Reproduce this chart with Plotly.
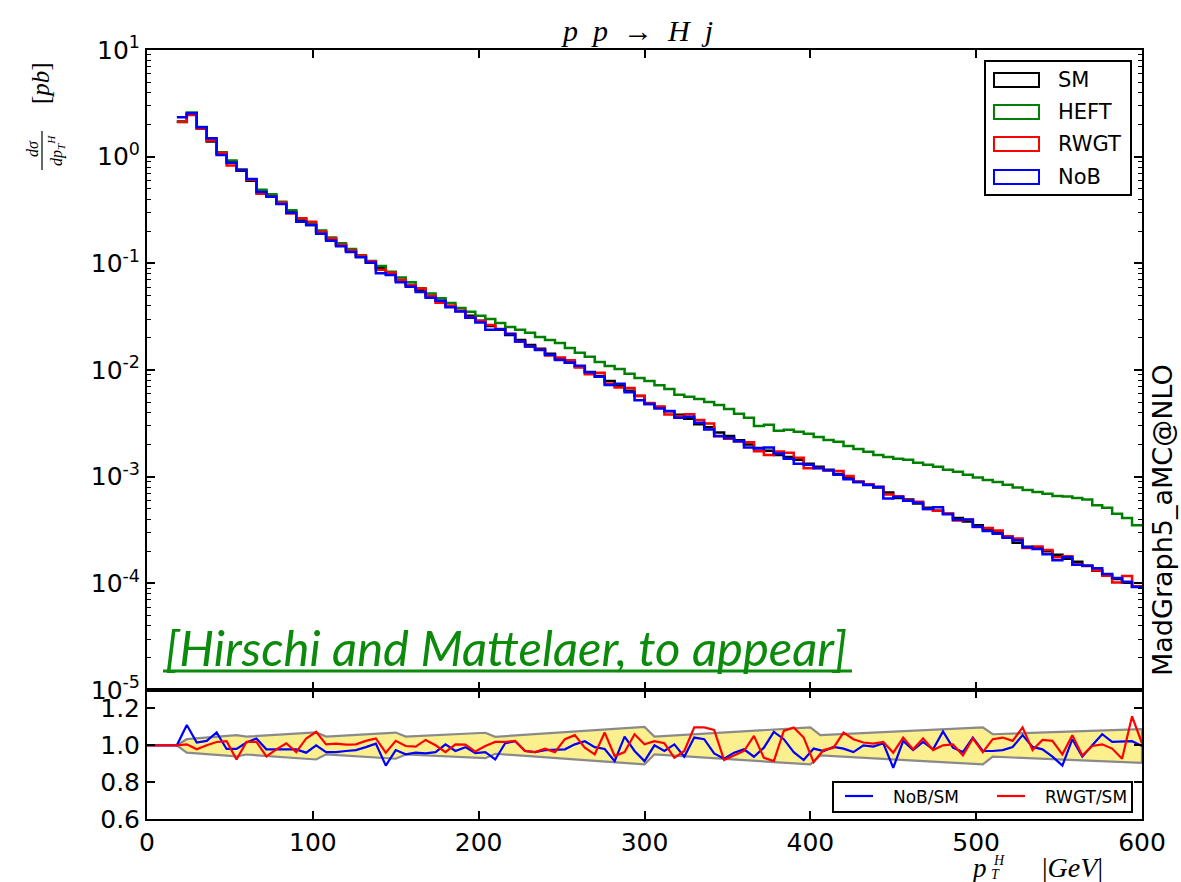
import numpy as np
import plotly.graph_objects as go

# ---------------------------------------------------------------------------
# Higgs transverse-momentum spectrum, p p -> H j, 6 GeV bins from 18 GeV
# ---------------------------------------------------------------------------
bin_start = 18.0
bin_width = 6.0

# d sigma / d pT  [pb] per bin (SM with full top/bottom loops)
sm_xsec = [
    2.11, 2.51, 1.84, 1.39, 1.06, 0.895, 0.738, 0.596, 0.477, 0.431,
    0.368, 0.305, 0.255, 0.229, 0.197, 0.169, 0.149, 0.131, 0.115, 0.101,
    0.0906, 0.0796, 0.0699, 0.0628, 0.0563, 0.0495, 0.0444, 0.0399, 0.0358, 0.0322,
    0.0289, 0.0259, 0.0238, 0.0213, 0.0191, 0.0172, 0.0158, 0.0142, 0.0127, 0.0117,
    0.0107, 0.0096, 0.0088, 0.0079, 0.0071, 0.0064, 0.0057, 0.0048, 0.0045, 0.0041,
    0.0038, 0.0035, 0.0031, 0.0029, 0.0026, 0.0024, 0.0022, 0.0020, 0.00186, 0.00175,
    0.00160, 0.00153, 0.00144, 0.00132, 0.00124, 0.00116, 0.00106, 0.00098, 0.00089, 0.00084,
    0.00079, 0.00071, 0.00063, 0.00061, 0.00056, 0.00051, 0.00048, 0.00045, 0.00041, 0.00038,
    0.00035, 0.00032, 0.00030, 0.00027, 0.00024, 0.00022, 0.000215, 0.00020, 0.000185, 0.000170,
    0.000159, 0.000146, 0.000131, 0.000120, 0.000110, 0.000101, 0.0000927,
]

# Heavy-top effective theory
heft_xsec = [
    2.15, 2.60, 1.90, 1.43, 1.10, 0.92, 0.76, 0.615, 0.49, 0.445,
    0.378, 0.315, 0.263, 0.236, 0.203, 0.175, 0.154, 0.136, 0.119, 0.105,
    0.0945, 0.0835, 0.0735, 0.0665, 0.0585, 0.0522, 0.0470, 0.0425, 0.0382, 0.0351,
    0.0322, 0.0301, 0.0276, 0.0253, 0.0238, 0.0223, 0.0204, 0.0191, 0.0179, 0.0161,
    0.0145, 0.0133, 0.0119, 0.0109, 0.0102, 0.0092, 0.0084, 0.0079, 0.0072, 0.00665,
    0.00585, 0.0056, 0.00536, 0.00502, 0.00471, 0.00432, 0.00388, 0.00356, 0.00299, 0.00306,
    0.00269, 0.00275, 0.00263, 0.00252, 0.00236, 0.00221, 0.00212, 0.00194, 0.00182, 0.00171,
    0.00160, 0.00153, 0.00147, 0.00144, 0.00135, 0.00129, 0.00124, 0.00116, 0.00111, 0.00104,
    0.00098, 0.00093, 0.00089, 0.00084, 0.00079, 0.00075, 0.00072, 0.00069, 0.00066, 0.00065,
    0.00063, 0.00061, 0.00054, 0.00051, 0.00045, 0.00041, 0.00035,
]

# Ratios to SM, one value per bin
nob_over_sm = [
    1.11, 1.015, 1.024, 1.07, 0.98, 0.98, 1.015, 1.037, 0.978, 0.978,
    0.98, 0.978, 0.96, 1.0, 0.963, 0.963, 0.969, 0.974, 0.99, 1.009,
    0.89, 0.974, 0.951, 0.96, 0.956, 0.963, 1.005, 0.969, 0.99, 0.958,
    0.963, 0.923, 1.011, 1.022, 0.969, 0.963, 0.974, 0.978, 0.978, 1.005,
    1.022, 0.99, 0.98, 0.914, 1.047, 0.969, 0.914, 1.0, 0.969, 1.005,
    0.938, 1.042, 1.033, 0.956, 0.927, 0.96, 0.978, 0.938, 0.987, 1.073,
    1.033, 0.963, 0.92, 0.982, 0.969, 0.991, 0.982, 0.963, 1.0, 0.993,
    1.011, 0.878, 1.024, 0.974, 1.018, 0.978, 1.075, 0.987, 0.963, 1.042,
    0.969, 0.969, 0.974, 0.991, 1.055, 0.991, 0.978, 0.938, 0.89, 1.033,
    0.938, 1.0, 1.06, 1.018, 1.018, 1.022, 0.996,
]
rwgt_over_sm = [
    1.005, 0.978, 1.0, 1.018, 1.022, 0.923, 1.018, 1.018, 0.94, 0.978,
    1.011, 0.963, 1.037, 1.073, 1.005, 1.009, 1.004, 1.005, 1.024, 1.037,
    0.96, 1.024, 0.996, 0.993, 1.029, 1.0, 0.963, 1.005, 1.004, 0.966,
    0.996, 1.018, 1.018, 1.024, 0.969, 0.963, 0.982, 0.963, 1.033, 1.055,
    0.987, 0.951, 1.069, 0.942, 0.963, 1.06, 1.005, 1.022, 1.011, 0.932,
    0.969, 1.097, 1.097, 1.084, 0.92, 0.945, 0.969, 1.051, 0.932, 0.914,
    1.078, 1.097, 1.042, 0.909, 0.974, 0.987, 1.069, 1.033, 1.015, 1.009,
    1.018, 0.96, 1.042, 0.978, 1.037, 0.974, 1.0, 1.005, 0.945, 1.037,
    0.963, 1.033, 1.042, 1.024, 1.097, 0.974, 1.029, 1.024, 0.951, 1.055,
    0.945, 0.996, 1.005, 0.982, 0.927, 1.157, 1.011,
]

# Scale-uncertainty envelope (relative to SM)
band_pt = [18, 24, 54, 60, 102, 108, 150, 156, 204, 210, 300, 306, 400, 406, 504, 510, 600]
band_hi = [1.0, 1.033, 1.055, 1.047, 1.07, 1.047, 1.069, 1.047, 1.068, 1.046,
           1.1, 1.047, 1.097, 1.055, 1.097, 1.06, 1.088]
band_lo = [1.0, 0.96, 0.94, 0.95, 0.923, 0.951, 0.927, 0.95, 0.93, 0.954,
           0.896, 0.951, 0.896, 0.945, 0.896, 0.938, 0.905]

series_names = ["SM", "HEFT", "RWGT", "NoB"]
series_colors = ["#000000", "#008000", "#ff0000", "#0000ff"]

# ---------------------------------------------------------------------------
sm = np.array(sm_xsec)
heft = np.array(heft_xsec)
nob_ratio = np.array(nob_over_sm)
rwgt_ratio = np.array(rwgt_over_sm)
nob = sm * nob_ratio
rwgt = sm * rwgt_ratio

edges = bin_start + bin_width * np.arange(len(sm) + 1)
# ratio points sit on the upper bin edges; the empty region below the cut is 1
empty_pts = np.arange(0.0, bin_start + 1, bin_width)
ratio_x = np.concatenate([empty_pts, edges[1:]])


def ratio_y(r):
    return np.concatenate([np.ones(len(empty_pts)), r])


def step_y(v):
    return np.append(v, v[-1])


# canvas geometry
W, H = 1181, 882
ML, MR, MT, MB = 147, 39, 50, 63
PW, PH = W - ML - MR, H - MT - MB
SPLIT = 690  # pixel row separating the two panels


def fx(p):
    return (p - ML) / PW


def fy(p):
    return (H - MB - p) / PH


split_dom = fy(SPLIT)

fig = go.Figure()

for vals, name, col in zip([sm, heft, rwgt, nob], series_names, series_colors):
    fig.add_trace(go.Scatter(
        x=edges, y=step_y(vals), mode="lines", line_shape="hv",
        line=dict(color=col, width=2.5), name=name, showlegend=False,
        xaxis="x", yaxis="y",
    ))

# ratio panel: envelope
fig.add_trace(go.Scatter(
    x=list(band_pt) + list(band_pt[::-1]),
    y=list(band_hi) + list(band_lo[::-1]),
    mode="lines", fill="toself", fillcolor="#fcef8e",
    line=dict(color="#8a8a8a", width=2.2), showlegend=False,
    xaxis="x2", yaxis="y2", hoverinfo="skip",
))
fig.add_trace(go.Scatter(
    x=ratio_x, y=ratio_y(nob_ratio), mode="lines",
    line=dict(color="#0000ff", width=2.2), name="NoB/SM", showlegend=False,
    xaxis="x2", yaxis="y2",
))
fig.add_trace(go.Scatter(
    x=ratio_x, y=ratio_y(rwgt_ratio), mode="lines",
    line=dict(color="#ff0000", width=2.2), name="RWGT/SM", showlegend=False,
    xaxis="x2", yaxis="y2",
))

tick_font = dict(family="DejaVu Sans", size=25, color="black")
axis_common = dict(showline=True, linecolor="black", linewidth=2, mirror="ticks",
                   ticks="inside", tickcolor="black", tickwidth=1.5, ticklen=8,
                   showgrid=False, zeroline=False)

log_major = [10.0 ** e for e in range(-5, 2)]
log_text = ["10<sup>%d</sup>" % e for e in range(-5, 2)]
log_minor = [k * 10.0 ** e for e in range(-5, 1) for k in range(2, 10)]

fig.update_layout(
    width=W, height=H,
    margin=dict(l=ML, r=MR, t=MT, b=MB),
    paper_bgcolor="white", plot_bgcolor="white",
    showlegend=False,
    xaxis=dict(axis_common, domain=[0, 1], range=[0, 600], anchor="y",
               tickvals=[0, 100, 200, 300, 400, 500, 600], showticklabels=False,
               matches="x2"),
    yaxis=dict(axis_common, domain=[split_dom, 1], type="log", range=[-5, 1],
               anchor="x", tickvals=log_major, ticktext=log_text,
               tickfont=tick_font,
               minor=dict(ticks="inside", ticklen=4, tickwidth=1.2, tickcolor="black",
                          tickmode="array", tickvals=log_minor, showgrid=False)),
    xaxis2=dict(axis_common, domain=[0, 1], range=[0, 600], anchor="y2",
                tickvals=[0, 100, 200, 300, 400, 500, 600], tickfont=tick_font),
    yaxis2=dict(axis_common, domain=[0, split_dom], range=[0.6, 1.3], anchor="x2",
                tickvals=[0.6, 0.8, 1.0, 1.2], ticktext=["0.6", "0.8", "1.0", "1.2"],
                tickfont=tick_font),
)

shapes = []
annotations = []

# main legend
shapes.append(dict(type="rect", xref="paper", yref="paper",
                   x0=fx(985), x1=fx(1131), y0=fy(195), y1=fy(61),
                   line=dict(color="black", width=2), fillcolor="white", layer="above"))
leg_rows = [80, 112, 144, 177]
for row, name, col in zip(leg_rows, series_names, series_colors):
    shapes.append(dict(type="rect", xref="paper", yref="paper",
                       x0=fx(994), x1=fx(1039), y0=fy(row + 7), y1=fy(row - 7),
                       line=dict(color=col, width=2), fillcolor="white", layer="above"))
    annotations.append(dict(text=name, xref="paper", yref="paper",
                            x=fx(1056), y=fy(row), xanchor="left", yanchor="middle",
                            showarrow=False,
                            font=dict(family="DejaVu Sans", size=21, color="black")))

# ratio legend
shapes.append(dict(type="rect", xref="paper", yref="paper",
                   x0=fx(833), x1=fx(1132), y0=fy(812), y1=fy(782),
                   line=dict(color="black", width=2), fillcolor="white", layer="above"))
for x0, x1, xt, name, col in [(845, 873, 891, "NoB/SM", "#0000ff"),
                              (997, 1025, 1043, "RWGT/SM", "#ff0000")]:
    shapes.append(dict(type="line", xref="paper", yref="paper",
                       x0=fx(x0), x1=fx(x1), y0=fy(796), y1=fy(796),
                       line=dict(color=col, width=2.2), layer="above"))
    annotations.append(dict(text=name, xref="paper", yref="paper",
                            x=fx(xt), y=fy(797), xanchor="left", yanchor="middle",
                            showarrow=False,
                            font=dict(family="DejaVu Sans", size=17, color="black")))

serif = "Liberation Serif"

# title
annotations.append(dict(text="<i>p</i>  <i>p</i>  →  <i>H</i>  <i>j</i>",
                        xref="paper", yref="paper", x=fx(637), y=fy(30),
                        xanchor="center", yanchor="middle", showarrow=False,
                        font=dict(family=serif, size=30, color="black")))

# y-axis label: fraction d sigma / d pT^H and unit
annotations.append(dict(text="<i>dσ</i>", xref="paper", yref="paper",
                        x=fx(32), y=fy(149), textangle=-90, xanchor="center",
                        yanchor="middle", showarrow=False,
                        font=dict(family=serif, size=16, color="black")))
annotations.append(dict(text="<i>dp</i><sub><i>T</i></sub><sup><i>H</i></sup>",
                        xref="paper", yref="paper",
                        x=fx(56), y=fy(151), textangle=-90, xanchor="center",
                        yanchor="middle", showarrow=False,
                        font=dict(family=serif, size=16, color="black")))
shapes.append(dict(type="line", xref="paper", yref="paper",
                   x0=fx(42), x1=fx(42), y0=fy(131), y1=fy(170),
                   line=dict(color="black", width=1.2)))
annotations.append(dict(text="[<i>pb</i>]", xref="paper", yref="paper",
                        x=fx(40), y=fy(83), textangle=-90, xanchor="center",
                        yanchor="middle", showarrow=False,
                        font=dict(family=serif, size=25, color="black")))

# x-axis label
annotations.append(dict(text="<i>p</i>", xref="paper", yref="paper",
                        x=fx(979), y=fy(868), xanchor="center", yanchor="middle",
                        showarrow=False, font=dict(family=serif, size=27, color="black")))
annotations.append(dict(text="<i>H</i>", xref="paper", yref="paper",
                        x=fx(999), y=fy(860), xanchor="center", yanchor="middle",
                        showarrow=False, font=dict(family=serif, size=14, color="black")))
annotations.append(dict(text="<i>T</i>", xref="paper", yref="paper",
                        x=fx(995), y=fy(874), xanchor="center", yanchor="middle",
                        showarrow=False, font=dict(family=serif, size=14, color="black")))
annotations.append(dict(text="|<i>GeV</i>|", xref="paper", yref="paper",
                        x=fx(1072), y=fy(867), xanchor="center", yanchor="middle",
                        showarrow=False, font=dict(family=serif, size=28, color="black")))

# generator tag
annotations.append(dict(text="MadGraph5_aMC@NLO", xref="paper", yref="paper",
                        x=fx(1162), y=fy(520), textangle=-90, xanchor="center",
                        yanchor="middle", showarrow=False,
                        font=dict(family="DejaVu Sans", size=27, color="black")))

# reference note
annotations.append(dict(text="<i>[Hirschi and Mattelaer, to appear]</i>",
                        xref="paper", yref="paper", x=fx(163), y=fy(647),
                        xanchor="left", yanchor="middle", showarrow=False,
                        font=dict(family="Lato", size=49, color="#0b8a0b")))
shapes.append(dict(type="line", xref="paper", yref="paper",
                   x0=fx(163), x1=fx(852), y0=fy(671), y1=fy(671),
                   line=dict(color="#0b8a0b", width=3)))

fig.update_layout(shapes=shapes, annotations=annotations)

fig.write_html("out.html")
